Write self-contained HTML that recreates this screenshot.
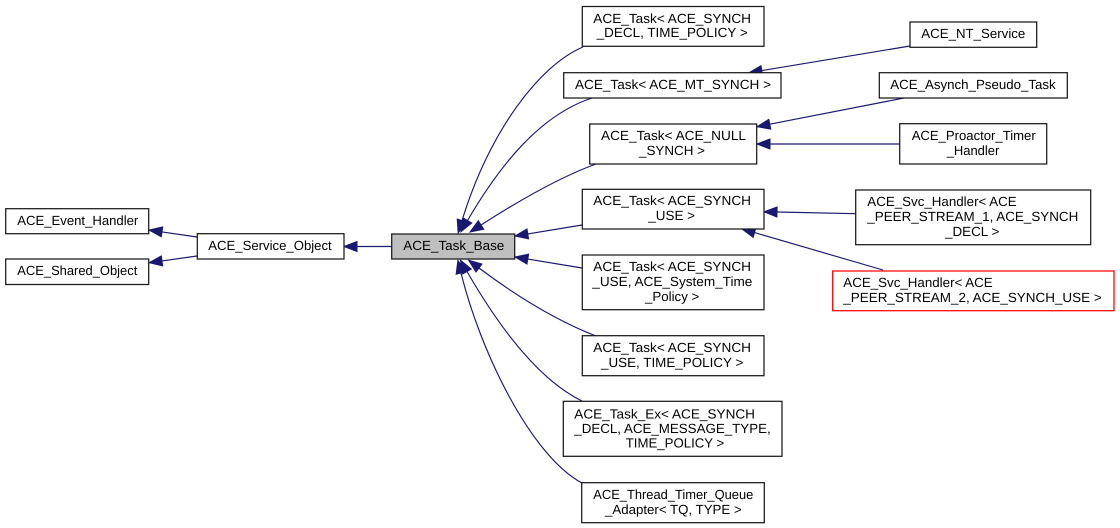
<!DOCTYPE html>
<html>
<head>
<meta charset="utf-8">
<style>
html,body{margin:0;padding:0;background:#fff;width:1120px;height:528px;overflow:hidden}
svg{display:block}
text{font-family:"Liberation Sans",sans-serif;font-size:13.33px;fill:#000;text-rendering:geometricPrecision}
rect{fill:#fff;stroke:#1a1a1a;stroke-width:1.25}
.e{fill:none;stroke:#191970;stroke-width:1.15;marker-end:url(#a)}
</style>
</head>
<body>
<svg width="1120" height="528" viewBox="0 0 1120 528" xmlns="http://www.w3.org/2000/svg">
<defs>
<marker id="a" markerUnits="userSpaceOnUse" markerWidth="16" markerHeight="14" refX="0" refY="5" orient="auto" overflow="visible">
<polygon points="0,0 13,5 0,10" fill="#191970" stroke="#191970" stroke-width="1"/>
</marker>
</defs>

<!-- edges -->
<path class="e" d="M197,237 L162,231.9"/>
<path class="e" d="M197,256 L162,260.9"/>
<path class="e" d="M392,246.5 L357,246.5"/>
<path class="e" d="M583,47 C540,65 490,130 462,220.5"/>
<path class="e" d="M592,98 C540,115 500,165 467.5,220.5"/>
<path class="e" d="M596,164 C560,177 520,200 481,225"/>
<path class="e" d="M582,225 L527.8,233.9"/>
<path class="e" d="M582,268 L527.8,259.1"/>
<path class="e" d="M596,336 C555,320 515,295 479,268"/>
<path class="e" d="M582,401 C535,378 495,320 467,271.5"/>
<path class="e" d="M582,483 C530,455 480,350 461,273"/>
<path class="e" d="M910,46 L761.8,70.6"/>
<path class="e" d="M904,98 L769.8,124.2"/>
<path class="e" d="M900,144 L770,144"/>
<path class="e" d="M856,213.7 L777,212"/>
<path class="e" d="M883,270 L754.5,232.6"/>

<!-- nodes -->
<rect x="5.7" y="208.7" width="143" height="25"/>
<text x="17.3" y="225" textLength="121" lengthAdjust="spacingAndGlyphs">ACE_Event_Handler</text>

<rect x="5.7" y="259" width="143" height="25.5"/>
<text x="17.3" y="275" textLength="120" lengthAdjust="spacingAndGlyphs">ACE_Shared_Object</text>

<rect x="197.3" y="233.7" width="146.7" height="25.3"/>
<text x="208.3" y="250" textLength="123.4" lengthAdjust="spacingAndGlyphs">ACE_Service_Object</text>

<rect x="391.7" y="234" width="123" height="25" style="fill:#bfbfbf"/>
<text x="403.3" y="250" textLength="101" lengthAdjust="spacingAndGlyphs">ACE_Task_Base</text>

<rect x="582.3" y="6.5" width="181.7" height="39.8"/>
<text x="593.3" y="23" textLength="157.7" lengthAdjust="spacingAndGlyphs">ACE_Task&lt; ACE_SYNCH</text>
<text x="596.7" y="37" textLength="151" lengthAdjust="spacingAndGlyphs">_DECL, TIME_POLICY &gt;</text>

<rect x="563.7" y="72.7" width="217.3" height="25.3"/>
<text x="575" y="89" textLength="196" lengthAdjust="spacingAndGlyphs">ACE_Task&lt; ACE_MT_SYNCH &gt;</text>

<rect x="589.7" y="124" width="167" height="40"/>
<text x="601" y="140" textLength="145" lengthAdjust="spacingAndGlyphs">ACE_Task&lt; ACE_NULL</text>
<text x="639" y="155" textLength="66" lengthAdjust="spacingAndGlyphs">_SYNCH &gt;</text>

<rect x="582.3" y="189.3" width="181.7" height="39.7"/>
<text x="593.3" y="205" textLength="157.7" lengthAdjust="spacingAndGlyphs">ACE_Task&lt; ACE_SYNCH</text>
<text x="648.3" y="220" textLength="46.7" lengthAdjust="spacingAndGlyphs">_USE &gt;</text>

<rect x="582.3" y="255" width="181.7" height="54.7"/>
<text x="593.3" y="271" textLength="157.7" lengthAdjust="spacingAndGlyphs">ACE_Task&lt; ACE_SYNCH</text>
<text x="592.3" y="286" textLength="160" lengthAdjust="spacingAndGlyphs">_USE, ACE_System_Time</text>
<text x="645" y="301" textLength="54.3" lengthAdjust="spacingAndGlyphs">_Policy &gt;</text>

<rect x="582.3" y="335.7" width="181.7" height="40"/>
<text x="593.3" y="352" textLength="157.7" lengthAdjust="spacingAndGlyphs">ACE_Task&lt; ACE_SYNCH</text>
<text x="601" y="367" textLength="142.3" lengthAdjust="spacingAndGlyphs">_USE, TIME_POLICY &gt;</text>

<rect x="563.3" y="401.3" width="218.7" height="55"/>
<text x="574.3" y="418.5" textLength="180.7" lengthAdjust="spacingAndGlyphs">ACE_Task_Ex&lt; ACE_SYNCH</text>
<text x="574.3" y="433" textLength="196.4" lengthAdjust="spacingAndGlyphs">_DECL, ACE_MESSAGE_TYPE,</text>
<text x="625.7" y="447.5" textLength="98.6" lengthAdjust="spacingAndGlyphs">TIME_POLICY &gt;</text>

<rect x="581.7" y="482.7" width="182.6" height="40"/>
<text x="593.3" y="499" textLength="160" lengthAdjust="spacingAndGlyphs">ACE_Thread_Timer_Queue</text>
<text x="605" y="514" textLength="136.7" lengthAdjust="spacingAndGlyphs">_Adapter&lt; TQ, TYPE &gt;</text>

<rect x="910" y="22" width="126.7" height="25.3"/>
<text x="921.3" y="38" textLength="104" lengthAdjust="spacingAndGlyphs">ACE_NT_Service</text>

<rect x="879.3" y="72.7" width="188" height="25.3"/>
<text x="890.3" y="89" textLength="165.4" lengthAdjust="spacingAndGlyphs">ACE_Asynch_Pseudo_Task</text>

<rect x="899.7" y="123.7" width="147" height="40.3"/>
<text x="911.7" y="140" textLength="124" lengthAdjust="spacingAndGlyphs">ACE_Proactor_Timer</text>
<text x="946.7" y="155" textLength="52.6" lengthAdjust="spacingAndGlyphs">_Handler</text>

<rect x="855.7" y="190" width="235" height="54.7"/>
<text x="867.3" y="206" textLength="149.4" lengthAdjust="spacingAndGlyphs">ACE_Svc_Handler&lt; ACE</text>
<text x="867.3" y="221" textLength="211" lengthAdjust="spacingAndGlyphs">_PEER_STREAM_1, ACE_SYNCH</text>
<text x="945" y="236" textLength="54.3" lengthAdjust="spacingAndGlyphs">_DECL &gt;</text>

<rect x="832.7" y="271" width="281.3" height="39.7" style="stroke:#ff0000"/>
<text x="843.3" y="287" textLength="149.4" lengthAdjust="spacingAndGlyphs">ACE_Svc_Handler&lt; ACE</text>
<text x="843.3" y="302" textLength="258.4" lengthAdjust="spacingAndGlyphs">_PEER_STREAM_2, ACE_SYNCH_USE &gt;</text>
</svg>
</body>
</html>
